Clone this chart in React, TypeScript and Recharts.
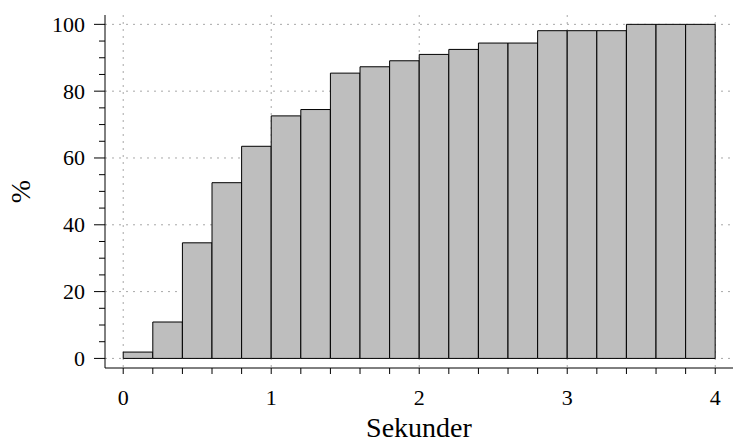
import { Bar, CartesianGrid, ComposedChart, XAxis, YAxis } from "recharts";

// bin midpoints (seconds), 0.2 s wide bins
const binMids = [
  0.1, 0.3, 0.5, 0.7, 0.9, 1.1, 1.3, 1.5, 1.7, 1.9, 2.1, 2.3, 2.5, 2.7, 2.9,
  3.1, 3.3, 3.5, 3.7, 3.9,
];
// cumulative share in %
const cumulativePct = [
  1.9, 10.9, 34.6, 52.6, 63.5, 72.6, 74.5, 85.4, 87.3, 89.1, 91.0, 92.5, 94.4,
  94.4, 98.1, 98.1, 98.1, 100, 100, 100,
];
const xTicks = [
  0, 0.2, 0.4, 0.6, 0.8, 1, 1.2, 1.4, 1.6, 1.8, 2, 2.2, 2.4, 2.6, 2.8, 3, 3.2,
  3.4, 3.6, 3.8, 4,
];
const yTicks = [
  0, 5, 10, 15, 20, 25, 30, 35, 40, 45, 50, 55, 60, 65, 70, 75, 80, 85, 90, 95,
  100,
];
const xGrid = [0, 1, 2, 3, 4];
const yGrid = [0, 20, 40, 60, 80, 100];

const W = 733;
const H = 444;
const LEFT = 105;
const TOP = 15;
const BOTTOM = 76;
const X_DOMAIN: [number, number] = [-0.123, 4.12];
const Y_DOMAIN: [number, number] = [-2.87, 102.8];
const BIN = 0.2;
// a hair under the bin width, otherwise recharts falls back to 90% of the band
const barSize = ((BIN * (W - LEFT)) / (X_DOMAIN[1] - X_DOMAIN[0])) * 0.998;

const FONT = '"Liberation Serif", "Times New Roman", serif';
const TICK_FS = 22;
const LABEL_FS = 28;

const data = binMids.map((mid, i) => ({ mid, pct: cumulativePct[i] }));

function YTick(props: any) {
  const { x, y, payload } = props;
  const v = payload.value;
  const major = v % 20 === 0;
  return (
    <g>
      <line x1={x - (major ? 11 : 6)} x2={x} y1={y} y2={y} stroke="#000" />
      {major && (
        <text
          x={x - 20}
          y={y + 7.5}
          textAnchor="end"
          fontFamily={FONT}
          fontSize={TICK_FS}
          fill="#000"
        >
          {v}
        </text>
      )}
    </g>
  );
}

function XTick(props: any) {
  const { x, y, payload } = props;
  const v = payload.value;
  if (!Number.isInteger(v)) return <g />;
  return (
    <text
      x={x}
      y={y + 31}
      textAnchor="middle"
      fontFamily={FONT}
      fontSize={TICK_FS}
      fill="#000"
    >
      {v}
    </text>
  );
}

export default function App() {
  const plotH = H - TOP - BOTTOM;
  const midX = LEFT + (W - LEFT) / 2;
  const midY = TOP + plotH / 2;
  return (
    <div
      style={{
        position: "absolute",
        left: 0,
        top: 0,
        width: W,
        height: H,
        background: "#fff",
      }}
    >
      <ComposedChart
        width={W}
        height={H}
        data={data}
        margin={{ top: TOP, right: 0, left: 0, bottom: 0 }}
        barGap={0}
        barCategoryGap={0}
      >
        <CartesianGrid
          stroke="#a8a8a8"
          strokeDasharray="2 5"
          horizontalValues={yGrid}
          verticalValues={xGrid}
        />
        <XAxis
          type="number"
          dataKey="mid"
          domain={X_DOMAIN}
          ticks={xTicks}
          interval={0}
          height={BOTTOM}
          tickSize={6}
          tickMargin={0}
          axisLine={{ stroke: "#000" }}
          tickLine={{ stroke: "#000" }}
          tick={<XTick />}
          label={{
            content: () => (
              <text
                x={midX}
                y={H - 7}
                textAnchor="middle"
                fontFamily={FONT}
                fontSize={LABEL_FS}
                fill="#000"
              >
                Sekunder
              </text>
            ),
          }}
        />
        <YAxis
          type="number"
          domain={Y_DOMAIN}
          ticks={yTicks}
          interval={0}
          width={LEFT}
          tickSize={0}
          tickMargin={0}
          axisLine={{ stroke: "#000" }}
          tickLine={false}
          tick={<YTick />}
          label={{
            content: () => (
              <text
                x={30}
                y={midY}
                transform={`rotate(-90 30 ${midY})`}
                textAnchor="middle"
                fontFamily={FONT}
                fontSize={LABEL_FS}
                fill="#000"
              >
                %
              </text>
            ),
          }}
        />
        <Bar
          dataKey="pct"
          barSize={barSize}
          fill="#bebebe"
          stroke="#000"
          strokeWidth={1}
          isAnimationActive={false}
        />
      </ComposedChart>
    </div>
  );
}
